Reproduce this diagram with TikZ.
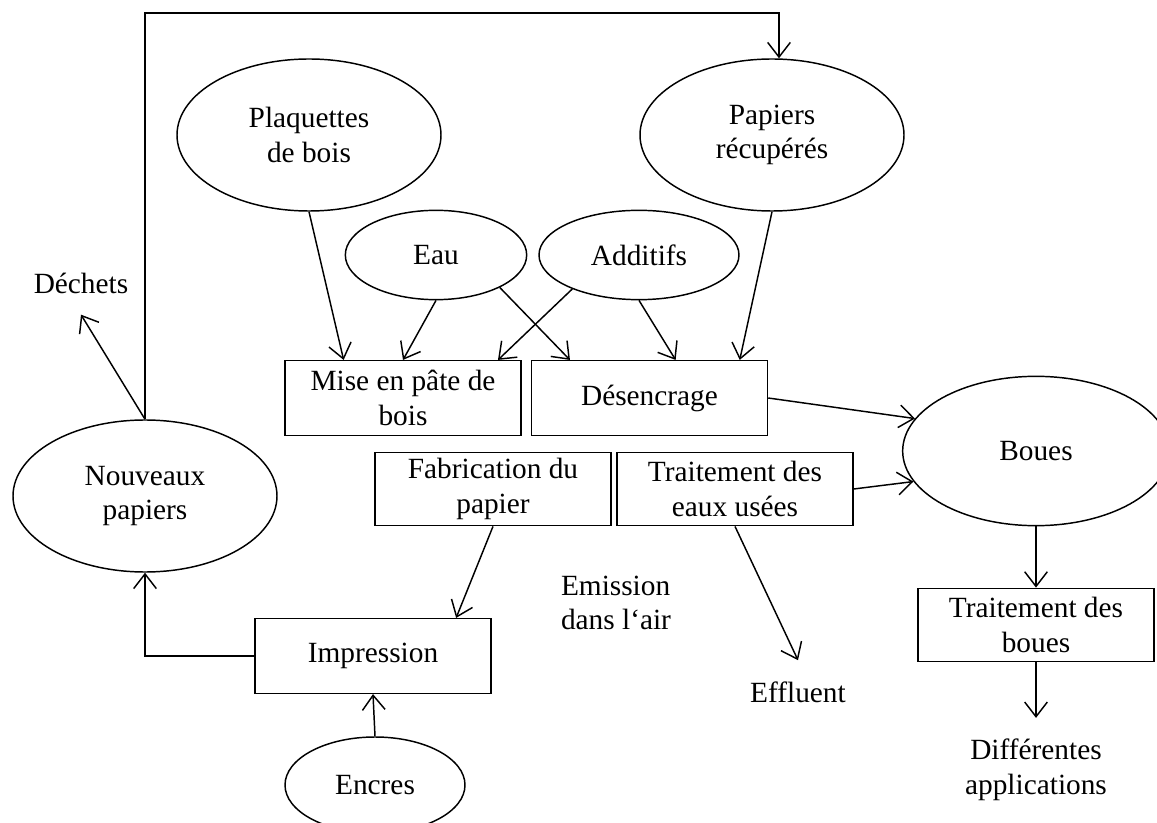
\documentclass[tikz,border=0pt]{standalone}
\usepackage{fontspec}
\setmainfont{Liberation Serif}
\usetikzlibrary{shapes.geometric,arrows.meta,calc}

\begin{document}
\begin{tikzpicture}[x=0.75pt,y=-0.75pt,line width=1.1pt,
		font=\fontsize{22}{26}\selectfont,
		oval/.style={draw,ellipse,inner sep=0pt,align=center},
		etape/.style={draw,rectangle,inner sep=0pt,align=center,minimum width=177pt,minimum height=56pt},
		sortie/.style={inner sep=0pt,outer sep=16pt,align=center},
		fleche/.style={-{Straight Barb[length=11pt,width=17pt]}}]
		\clip (0,0) rectangle (1157,823);
		% matieres premieres
		\node[oval,minimum width=198pt,minimum height=114pt] (plaq) at (309,135) {Plaquettes\\de bois};
		\node[oval,minimum width=198pt,minimum height=114pt] (papiers) at (772,135) {Papiers\\récupérés};
		\node[oval,minimum width=136pt,minimum height=67pt] (eau) at (436,255) {Eau};
		\node[oval,minimum width=150pt,minimum height=67pt] (additifs) at (639,255) {Additifs};
		% procedes
		\node[etape] (mise) at (403,398) {Mise en pâte de\\bois};
		\node[etape] (desenc) at (649.5,398) {Désencrage};
		\node[etape,minimum height=55pt] (fabric) at (493,489) {Fabrication du\\papier};
		\node[etape,minimum height=55pt] (eaux) at (735,489) {Traitement des\\eaux usées};
		\node[oval,minimum width=200pt,minimum height=112pt] (boues) at (1036,451) {Boues};
		\node[etape,minimum height=55pt] (trboues) at (1036,625) {Traitement des\\boues};
		\node[oval,minimum width=198pt,minimum height=114pt] (nouveaux) at (145,496) {Nouveaux\\papiers};
		\node[etape] (impr) at (373,656) {Impression};
		\node[oval,minimum width=135pt,minimum height=72pt] (encres) at (375,785) {Encres};
		% sorties
		\node[sortie] (dechets) at (81,283) {Déchets};
		\node[sortie,align=left] (emission) at (616,603) {Emission\\dans l‘air};
		\node[sortie] (effl) at (798,692) {Effluent};
		\node[sortie] (diff) at (1036,770) {Différentes\\applications};
		\coordinate (haut) at (779,13);

		\draw[fleche] (plaq.south) -- ($(mise.north west)!.25!(mise.north east)$);
		\draw[fleche] (eau.south) -- (mise.north);
		\draw[fleche] (eau.-27) -- ($(desenc.north west)!.165!(desenc.north east)$);
		\draw[fleche] (additifs.-153) -- ($(mise.north west)!.9!(mise.north east)$);
		\draw[fleche] (additifs.south) -- ($(desenc.north west)!.61!(desenc.north east)$);
		\draw[fleche] (papiers.south) -- ($(desenc.north west)!.88!(desenc.north east)$);
		\draw[fleche] (desenc.east) -- (boues.165);
		\draw[fleche] (eaux.east) -- (boues.194);
		\draw[fleche] (eaux.south) -- (effl.north);
		\draw[fleche] (boues.south) -- (trboues.north);
		\draw[fleche] (trboues.south) -- (diff.north);
		\draw[fleche] (fabric.south) -- ($(impr.north west)!.85!(impr.north east)$);
		\draw[fleche] (impr.west) -| (nouveaux.south);
		\draw[fleche] (encres.north) -- (impr.south);
		\draw[fleche] (nouveaux.north) -- (dechets.south);
		\draw[fleche] (nouveaux.north) |- (haut) -- (haut |- papiers.north);
	\end{tikzpicture}
\end{document}
